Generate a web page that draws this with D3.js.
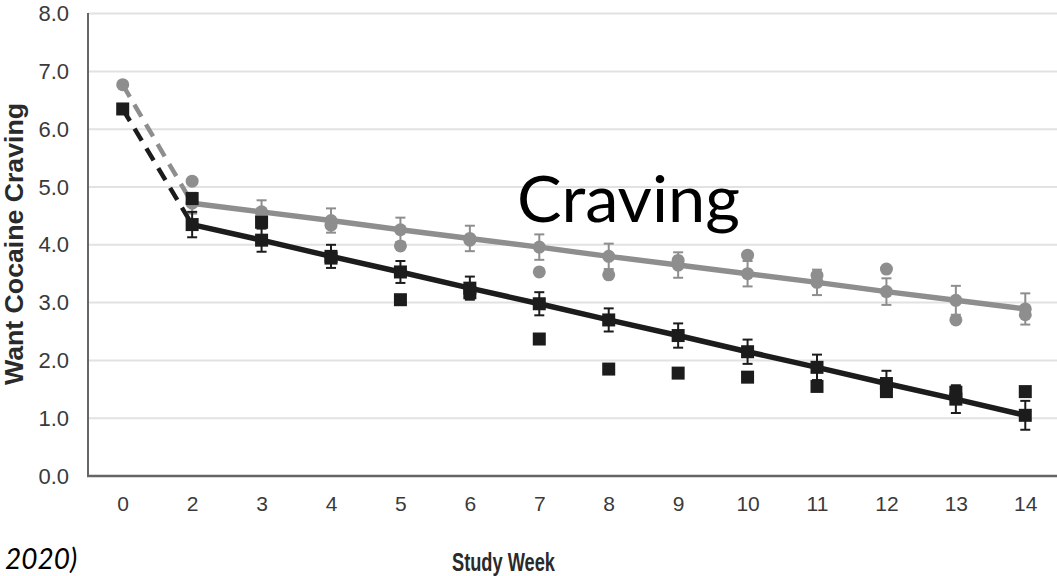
<!DOCTYPE html>
<html><head><meta charset="utf-8">
<script src="https://cdn.jsdelivr.net/npm/d3@7"></script>
<style>html,body{margin:0;padding:0;background:#fff;overflow:hidden}</style>
</head><body>
<svg id="chart" width="1057" height="576"></svg>
<script>
const weeks = ["0","2","3","4","5","6","7","8","9","10","11","12","13","14"];
const fitWeeks = ["2","3","4","5","6","7","8","9","10","11","12","13","14"];
const yTicks = [0,1,2,3,4,5,6,7,8];

const grayFit  = [4.72,4.57,4.42,4.26,4.11,3.96,3.80,3.65,3.50,3.35,3.19,3.04,2.89];
const grayErr  = [0.18,0.20,0.21,0.21,0.22,0.22,0.22,0.22,0.22,0.22,0.23,0.25,0.27];
const blackFit = [4.35,4.08,3.80,3.53,3.25,2.98,2.70,2.43,2.15,1.88,1.60,1.33,1.05];
const blackErr = [0.22,0.20,0.20,0.19,0.20,0.20,0.20,0.21,0.21,0.22,0.22,0.24,0.25];
const grayObs  = [6.77,5.10,4.50,4.34,3.98,4.08,3.53,3.48,3.73,3.82,3.47,3.58,2.70,2.79];
const blackObs = [6.35,4.80,4.39,3.77,3.05,3.17,2.37,1.85,1.78,1.71,1.55,1.46,1.45,1.46];
const grayDash  = [6.77,4.72];
const blackDash = [6.35,4.35];

const GRAY = "#8e8e8e", BLACK = "#1c1c1c";
const svg = d3.select("#chart");
const x = d3.scalePoint().domain(weeks).range([88,1060]).padding(0.5);
const y = d3.scaleLinear().domain([0,8]).range([476,13.6]);

svg.append("g").selectAll("line").data(yTicks.filter(d=>d>0)).join("line")
  .attr("x1",88).attr("x2",1057).attr("y1",d=>y(d)).attr("y2",d=>y(d))
  .attr("stroke","#e2e2e2").attr("stroke-width",2);

const yAxis = svg.append("g").attr("transform","translate(88,0)")
  .call(d3.axisLeft(y).tickValues(yTicks).tickFormat(d3.format(".1f")).tickSize(0).tickPadding(19));
yAxis.select(".domain").remove();
yAxis.selectAll("text").attr("font-family","Liberation Sans, Arial, sans-serif").attr("font-size",22).attr("fill","#3a3a3a");

const xAxis = svg.append("g").attr("transform","translate(0,476)")
  .call(d3.axisBottom(x).tickSize(0).tickPadding(20));
xAxis.select(".domain").remove();
xAxis.selectAll("text").attr("font-family","Liberation Sans, Arial, sans-serif").attr("font-size",21).attr("fill","#3a3a3a");

svg.append("line").attr("x1",88).attr("x2",88).attr("y1",13).attr("y2",477)
  .attr("stroke","#666").attr("stroke-width",2);
svg.append("line").attr("x1",87).attr("x2",1057).attr("y1",476).attr("y2",476)
  .attr("stroke","#666").attr("stroke-width",2.5);

svg.append("text").attr("transform","translate(23,244) rotate(-90)")
  .attr("text-anchor","middle").attr("font-family","Liberation Sans, Arial, sans-serif")
  .attr("font-weight","bold").attr("font-size",26).attr("fill","#2a2a2a")
  .attr("textLength",282).attr("lengthAdjust","spacingAndGlyphs")
  .text("Want Cocaine Craving");
svg.append("text").attr("x",452).attr("y",571)
  .attr("font-family","Liberation Sans, Arial, sans-serif")
  .attr("font-weight","bold").attr("font-size",25).attr("fill","#2a2a2a")
  .attr("textLength",103).attr("lengthAdjust","spacingAndGlyphs")
  .text("Study Week");

function drawSeries(color, fit, err, obs, dash, shape){
  const g = svg.append("g");
  g.append("path").datum(["0","2"].map((w,i)=>[w,dash[i]]))
    .attr("d", d3.line().x(d=>x(d[0])).y(d=>y(d[1])))
    .attr("fill","none").attr("stroke",color).attr("stroke-width",4.5)
    .attr("stroke-dasharray","14,9");
  const fd = fitWeeks.map((w,i)=>({w, v:fit[i], e:err[i]}));
  g.append("path").datum(fd)
    .attr("d", d3.line().x(d=>x(d.w)).y(d=>y(d.v)))
    .attr("fill","none").attr("stroke",color).attr("stroke-width",5.5);
  const eb = g.append("g").attr("stroke",color).attr("stroke-width",2);
  eb.selectAll(".v").data(fd).join("line")
    .attr("x1",d=>x(d.w)).attr("x2",d=>x(d.w)).attr("y1",d=>y(d.v+d.e)).attr("y2",d=>y(d.v-d.e));
  eb.selectAll(".t").data(fd).join("line")
    .attr("x1",d=>x(d.w)-5).attr("x2",d=>x(d.w)+5).attr("y1",d=>y(d.v+d.e)).attr("y2",d=>y(d.v+d.e));
  eb.selectAll(".b").data(fd).join("line")
    .attr("x1",d=>x(d.w)-5).attr("x2",d=>x(d.w)+5).attr("y1",d=>y(d.v-d.e)).attr("y2",d=>y(d.v-d.e));
  const od = weeks.map((w,i)=>({w, v:obs[i]}));
  const all = fd.concat(od);
  if(shape==="circle"){
    g.selectAll("circle").data(all).join("circle")
      .attr("cx",d=>x(d.w)).attr("cy",d=>y(d.v)).attr("r",6.5).attr("fill",color);
  } else {
    g.selectAll("rect").data(all).join("rect")
      .attr("x",d=>x(d.w)-6.5).attr("y",d=>y(d.v)-6.5).attr("width",13).attr("height",13).attr("fill",color);
  }
}
drawSeries(GRAY, grayFit, grayErr, grayObs, grayDash, "circle");
drawSeries(BLACK, blackFit, blackErr, blackObs, blackDash, "square");

svg.append("text").attr("x",517).attr("y",222)
  .attr("font-family","Lato, 'Open Sans', sans-serif").attr("font-size",64).attr("fill","#000")
  .attr("textLength",223).attr("lengthAdjust","spacingAndGlyphs")
  .text("Craving");
svg.append("text").attr("x",5).attr("y",569)
  .attr("font-family","Lato, 'Open Sans', sans-serif").attr("font-style","italic")
  .attr("font-size",28).attr("fill","#000")
  .text("2020)");
</script>
</body></html>
